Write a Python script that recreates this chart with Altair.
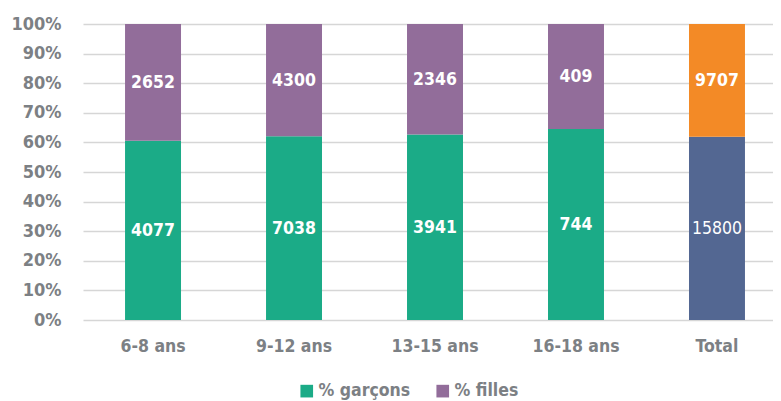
import altair as alt
import pandas as pd

categories = ["6-8 ans", "9-12 ans", "13-15 ans", "16-18 ans", "Total"]
garcons = [4077, 7038, 3941, 744, 15800]
filles = [2652, 4300, 2346, 409, 9707]
series_names = ["% garçons", "% filles", "Total garçons", "Total filles"]
series_colors = ["#1bab87", "#926d9a", "#536792", "#f38a26"]
y_ticks = [0.0, 0.1, 0.2, 0.3, 0.4, 0.5, 0.6, 0.7, 0.8, 0.9, 1.0]

rows = []
for c, g, f in zip(categories, garcons, filles):
    is_total = c == "Total"
    rows.append({"cat": c, "serie": series_names[2] if is_total else series_names[0], "value": g, "ord": 0})
    rows.append({"cat": c, "serie": series_names[3] if is_total else series_names[1], "value": f, "ord": 1})
df = pd.DataFrame(rows)

FONT = "DejaVu Sans Condensed, Liberation Sans Narrow, Roboto Condensed, Roboto, sans-serif"
GRAY = "#7c8084"

base = alt.Chart(df).transform_joinaggregate(
    total="sum(value)", groupby=["cat"]
).transform_calculate(
    pct="datum.value / datum.total"
).transform_stack(
    stack="pct", groupby=["cat"], as_=["y0", "y1"], sort=[alt.SortField("ord", order="ascending")]
).transform_calculate(
    mid="(datum.y0 + datum.y1) / 2"
)

yaxis = alt.Axis(values=y_ticks, format=".0%", ticks=False,
                 domain=False, labelPadding=22, grid=True, gridColor="#d6d6d6", gridWidth=1.6,
                 labelOverlap=False,
                 labelFont=FONT, labelFontSize=18, labelFontWeight="bold", labelColor=GRAY)
yscale = alt.Scale(domain=[0, 1], nice=False)

xaxis = alt.Axis(labelAngle=0, ticks=False, domain=False, labelPadding=17,
                 labelFont=FONT, labelFontSize=17.5, labelFontWeight="bold", labelColor=GRAY)
xscale = alt.Scale(paddingInner=0.603, paddingOuter=0.2485, align=0.6)

bars = base.mark_bar().encode(
    x=alt.X("cat:N", sort=categories, title=None, scale=xscale, axis=xaxis),
    y=alt.Y("y0:Q", title=None, scale=yscale, axis=yaxis),
    y2="y1:Q",
    color=alt.Color(
        "serie:N",
        scale=alt.Scale(domain=series_names, range=series_colors),
        legend=alt.Legend(
            values=series_names[:2], title=None, orient="none", direction="horizontal",
            legendX=215, legendY=358, symbolType="square", symbolSize=160,
            symbolStrokeWidth=0, labelFont=FONT, labelFontSize=17.5, labelFontWeight="bold",
            labelColor=GRAY, columnPadding=23, labelOffset=3,
        ),
    ),
)

def label_layer(filter_expr, weight):
    return base.transform_filter(filter_expr).mark_text(
        color="white", font=FONT, fontSize=17.5, fontWeight=weight,
        align="center", baseline="middle", dy=1
    ).encode(
        x=alt.X("cat:N", sort=categories, title=None, scale=xscale, axis=xaxis),
        y=alt.Y("mid:Q", title=None, scale=yscale, axis=yaxis),
        text=alt.Text("value:Q", format="d"),
    )

labels_bold = label_layer("datum.serie != 'Total garçons'", "bold")
labels_normal = label_layer("datum.serie == 'Total garçons'", "normal")

chart = alt.layer(bars, labels_bold, labels_normal).properties(
    width=690,
    height=296,
    autosize=alt.AutoSizeParams(type="none"),
    padding={"left": 75, "top": 16, "right": 0, "bottom": 80},
).configure_view(stroke=None)

chart.save("out.html", embed_options={"renderer": "svg", "actions": False})
